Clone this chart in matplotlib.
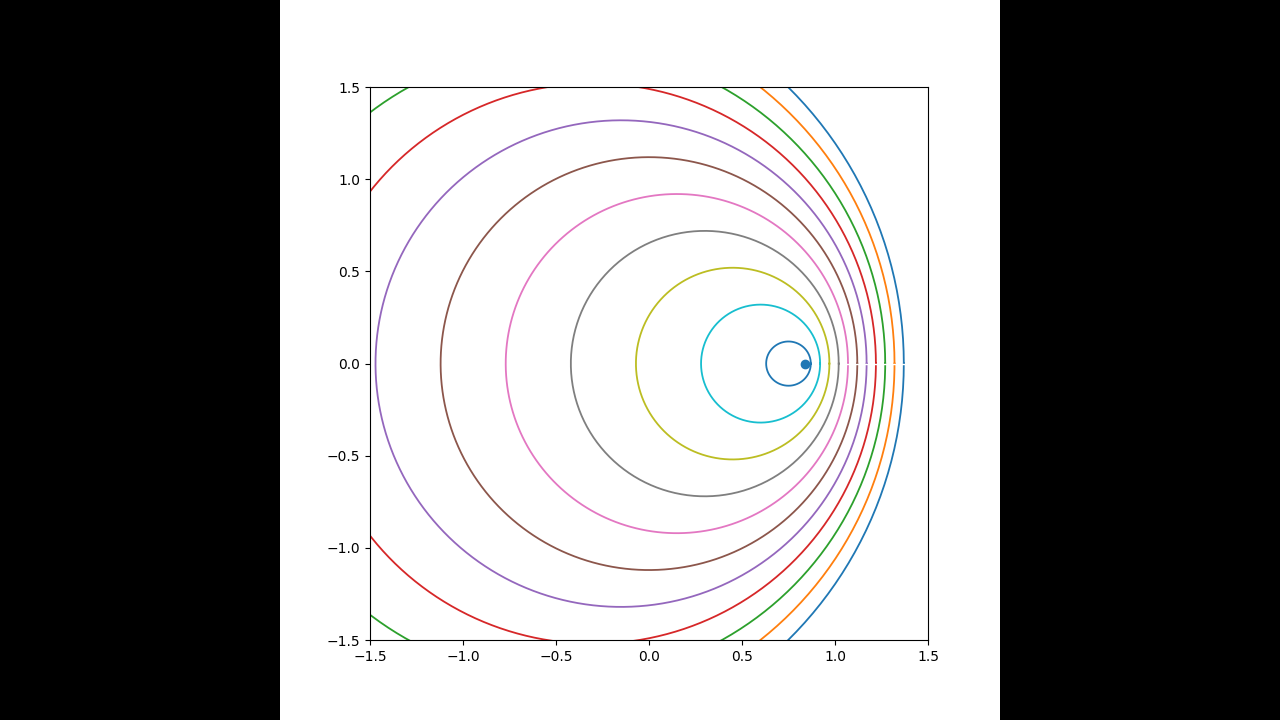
import numpy as np
import matplotlib.pyplot as plt
from matplotlib.patches import Rectangle

# circle centres (on the x axis) and radii, largest first
centers = [-0.75, -0.6, -0.45, -0.3, -0.15, 0.0, 0.15, 0.3, 0.45, 0.6, 0.75]
radii = [2.12, 1.92, 1.72, 1.52, 1.32, 1.12, 0.92, 0.72, 0.52, 0.32, 0.12]
point_x = [0.84]
point_y = [0.0]
gap_x = [1.05, 1.38]  # thin white segment crossing the outer circles

fig = plt.figure(figsize=(12.8, 7.2), dpi=100, facecolor='black')
fig.patches.append(Rectangle((0.21875, 0), 0.5625, 1, transform=fig.transFigure,
                             facecolor='white', zorder=-1))
ax = fig.add_axes([0.289, 0.111, 0.436, 0.768])

t = np.linspace(0, 2 * np.pi, 400)
for c, r in zip(centers, radii):
    ax.plot(c + r * np.cos(t), r * np.sin(t), lw=1.3)
ax.plot(gap_x, [0, 0], color='white', lw=1.0)
ax.plot(point_x, point_y, 'o', color='tab:blue')

ax.set_xlim(-1.5, 1.5)
ax.set_ylim(-1.5, 1.5)
fig.savefig('out.png', dpi=100, facecolor=fig.get_facecolor())
